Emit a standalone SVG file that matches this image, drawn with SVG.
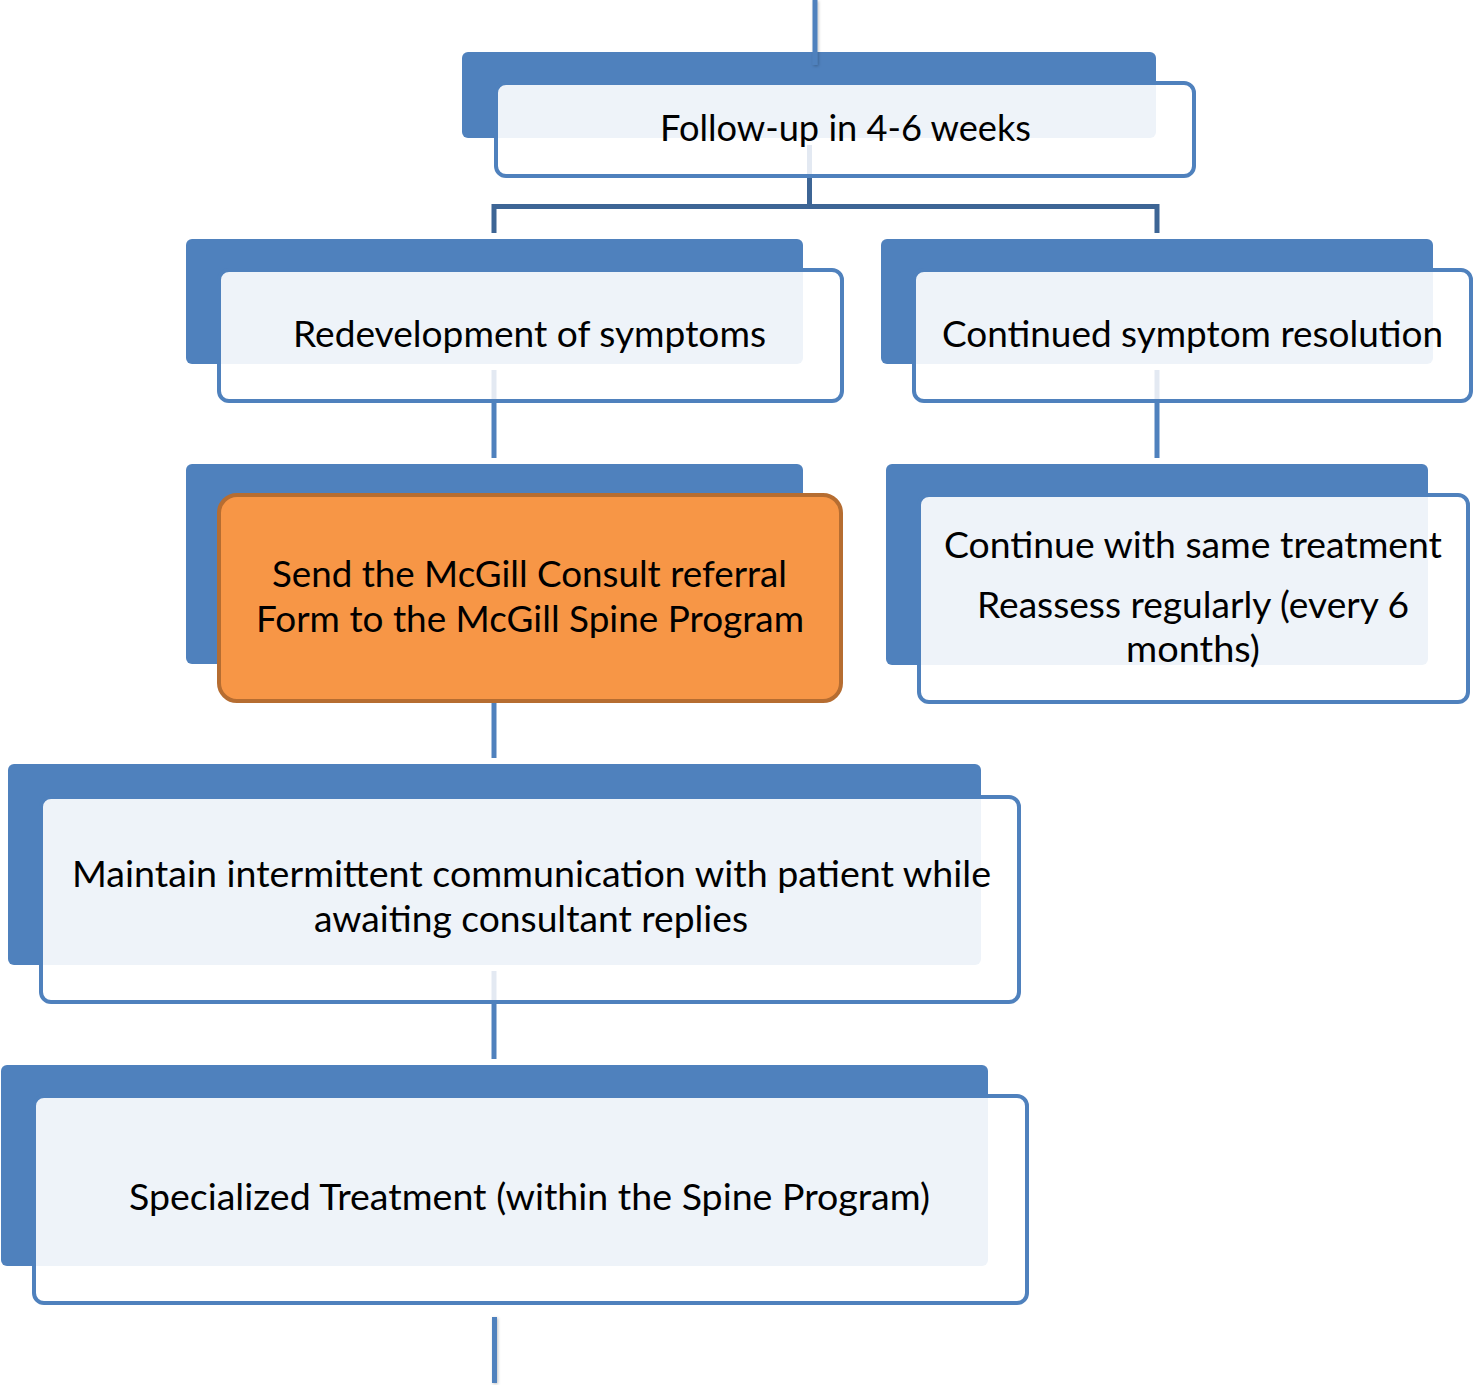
<svg xmlns="http://www.w3.org/2000/svg" width="1474" height="1385" viewBox="0 0 1474 1385">
  <defs>
    <filter id="sh" filterUnits="userSpaceOnUse" x="0" y="0" width="1474" height="1385">
      <feDropShadow dx="1" dy="1" stdDeviation="1.5" flood-color="#000" flood-opacity="0.25"/>
    </filter>
  </defs>
  <style>
    .back { fill: #4F81BD; }
    .front { fill: #FFFFFF; fill-opacity: 0.9; stroke: #4F81BD; stroke-width: 4; }
    .orange { fill: #F79646; stroke: #B66D31; stroke-width: 4; }
    .lbl { font-family: Lato, "Open Sans", "Noto Sans", sans-serif; font-size: 36px; fill: #000; text-anchor: middle; }
    .conn { fill: none; stroke: #4F81BD; stroke-width: 5; }
    .dark { fill: none; stroke: #3D6595; stroke-width: 5; stroke-linejoin: miter; }
    .hidden { fill: none; stroke: #E3E9F2; stroke-width: 5; }
  </style>
  <rect width="1474" height="1385" fill="#FFFFFF"/>

  <g id="node-followup">
    <rect class="back" x="462" y="52" width="694" height="86" rx="6"/>
    <rect class="front" x="496" y="83" width="698" height="93" rx="10"/>
    <text class="lbl" x="845.5" y="141" textLength="371" lengthAdjust="spacingAndGlyphs">Follow-up in 4-6 weeks</text>
  </g>

  <g id="node-redevelopment">
    <rect class="back" x="186" y="239" width="617" height="125" rx="6"/>
    <rect class="front" x="219" y="270" width="623" height="131" rx="10"/>
    <text class="lbl" x="529.5" y="347" textLength="473" lengthAdjust="spacingAndGlyphs">Redevelopment of symptoms</text>
  </g>

  <g id="node-resolution">
    <rect class="back" x="881" y="239" width="552" height="125" rx="6"/>
    <rect class="front" x="914" y="270" width="557" height="131" rx="10"/>
    <text class="lbl" x="1192.5" y="347" textLength="501" lengthAdjust="spacingAndGlyphs">Continued symptom resolution</text>
  </g>

  <g id="node-referral">
    <rect class="back" x="186" y="464" width="617" height="200" rx="6"/>
    <rect class="orange" x="219" y="495" width="622" height="206" rx="18"/>
    <text class="lbl" x="529.5" y="587" textLength="515" lengthAdjust="spacingAndGlyphs">Send the McGill Consult referral</text>
    <text class="lbl" x="530" y="632" textLength="548" lengthAdjust="spacingAndGlyphs">Form to the McGill Spine Program</text>
  </g>

  <g id="node-continue">
    <rect class="back" x="886" y="464" width="542" height="201" rx="6"/>
    <rect class="front" x="919" y="495" width="549" height="207" rx="10"/>
    <text class="lbl" x="1193" y="558" textLength="498" lengthAdjust="spacingAndGlyphs">Continue with same treatment</text>
    <text class="lbl" x="1193" y="618" textLength="432" lengthAdjust="spacingAndGlyphs">Reassess regularly (every 6</text>
    <text class="lbl" x="1193" y="662" textLength="134" lengthAdjust="spacingAndGlyphs">months)</text>
  </g>

  <g id="node-maintain">
    <rect class="back" x="8" y="764" width="973" height="201" rx="6"/>
    <rect class="front" x="41" y="797" width="978" height="205" rx="10"/>
    <text class="lbl" x="531.5" y="887" textLength="919" lengthAdjust="spacingAndGlyphs">Maintain intermittent communication with patient while</text>
    <text class="lbl" x="531" y="932" textLength="434" lengthAdjust="spacingAndGlyphs">awaiting consultant replies</text>
  </g>

  <g id="node-specialized">
    <rect class="back" x="1" y="1065" width="987" height="201" rx="6"/>
    <rect class="front" x="34" y="1096" width="993" height="207" rx="10"/>
    <text class="lbl" x="529.5" y="1210" textLength="801" lengthAdjust="spacingAndGlyphs">Specialized Treatment (within the Spine Program)</text>
  </g>

  <g id="connectors">
    <line class="conn" x1="815" y1="0" x2="815" y2="65" filter="url(#sh)"/>
    <line class="hidden" x1="809.5" y1="145" x2="809.5" y2="174"/>
    <path class="dark" d="M809.5 178 V206.5 H494 V233"/>
    <path class="dark" d="M809.5 206.5 H1157 V233"/>
    <line class="hidden" x1="494" y1="370" x2="494" y2="399"/>
    <line class="conn" x1="494" y1="403" x2="494" y2="458"/>
    <line class="hidden" x1="1157" y1="370" x2="1157" y2="399"/>
    <line class="conn" x1="1157" y1="403" x2="1157" y2="458"/>
    <line class="conn" x1="494" y1="703" x2="494" y2="758"/>
    <line class="hidden" x1="494" y1="971" x2="494" y2="1000"/>
    <line class="conn" x1="494" y1="1004" x2="494" y2="1059"/>
    <line class="conn" x1="494.5" y1="1317" x2="494.5" y2="1383" filter="url(#sh)"/>
  </g>
</svg>
